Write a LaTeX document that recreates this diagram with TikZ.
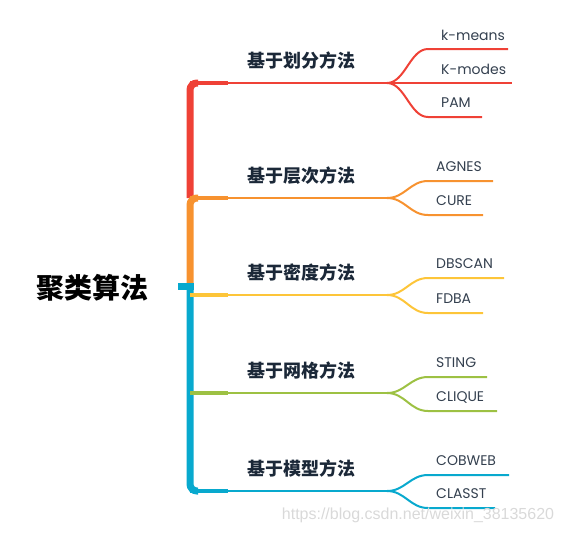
\documentclass[tikz,border=0pt]{standalone}
\usepackage{fontspec}
\setmainfont{Poppins}
\newfontfamily\cjk{Noto Sans CJK SC}
\newfontfamily\markfont{Liberation Sans}
\usetikzlibrary{positioning}
\definecolor{cRed}{HTML}{EF4136}
\definecolor{cOrange}{HTML}{F7922F}
\definecolor{cYellow}{HTML}{FDC539}
\definecolor{cGreen}{HTML}{9DC143}
\definecolor{cTeal}{HTML}{08A9CE}
\definecolor{inkDark}{HTML}{1B2838}
\definecolor{inkLeaf}{HTML}{34404F}
\tikzset{
  rootbox/.style={font=\cjk\bfseries\fontsize{28}{30}\selectfont, text=black},
  catbox/.style={font=\cjk\bfseries\fontsize{18}{20}\selectfont, text=inkDark},
  leafbox/.style={font=\fontsize{14}{16}\selectfont, text=inkLeaf, anchor=west, inner sep=0pt},
  trunk/.style={line width=7, rounded corners=7},
  stem/.style={line width=4},
  twig/.style={line width=2},
}
\begin{document}
\begin{tikzpicture}[x=1pt,y=-1pt]
\useasboundingbox (0,0) rectangle (562,533);
% root
\node[rootbox] (algo) at (92,288) {聚类算法};
% trunk
\draw[cRed,trunk] (190,198) |- (198,83);
\draw[cOrange,trunk] (190,283) |- (198,198);
\draw[cTeal,trunk] (190,283) |- (198,491);
\draw[cTeal,line width=7] (178,286.5) -- (194,286.5);
% categories
\foreach \c/\y/\name/\txt in {cRed/83/part/基于划分方法, cOrange/198/hier/基于层次方法,
    cYellow/295/dens/基于密度方法, cGreen/393/grid/基于网格方法, cTeal/491/model/基于模型方法}{
  \coordinate (\name-fork) at (387,\y);
  \node[catbox] (\name) at (301,\y-22) {\txt};
  \draw[\c,stem] (190,\y) -- (228,\y);
  \draw[\c,twig] (228,\y) -- (\name-fork);
}
% leaves
\foreach \g/\c/\yl/\xl/\xe/\n/\txt in {part/cRed/49/441/508/kmeans/k-means, part/cRed/83/441/512/kmodes/K-modes,
    part/cRed/117/441/482/pam/PAM, hier/cOrange/181/436/493/agnes/AGNES, hier/cOrange/215/436/483/cure/CURE,
    dens/cYellow/278/436/504/dbscan/DBSCAN, dens/cYellow/313/436/483/fdba/FDBA,
    grid/cGreen/377/436/487/sting/STING, grid/cGreen/411/436/497/clique/CLIQUE,
    model/cTeal/475/436/509/cobweb/COBWEB, model/cTeal/508/436/495/classt/CLASST}{
  \coordinate (\n-end) at (\xe,\yl);
  \node[leafbox] (\n) at (\xl,\yl-14) {\txt};
  \draw[\c,twig] (\g-fork) .. controls +(18,0) and +(-18,0) .. (428,\yl) -- (\n-end);
}
% watermark
\node[text=gray!30, font=\markfont\fontsize{16}{18}\selectfont] (mark) at (418,515) {https://blog.csdn.net/weixin\_38135620};
\end{tikzpicture}
\end{document}
